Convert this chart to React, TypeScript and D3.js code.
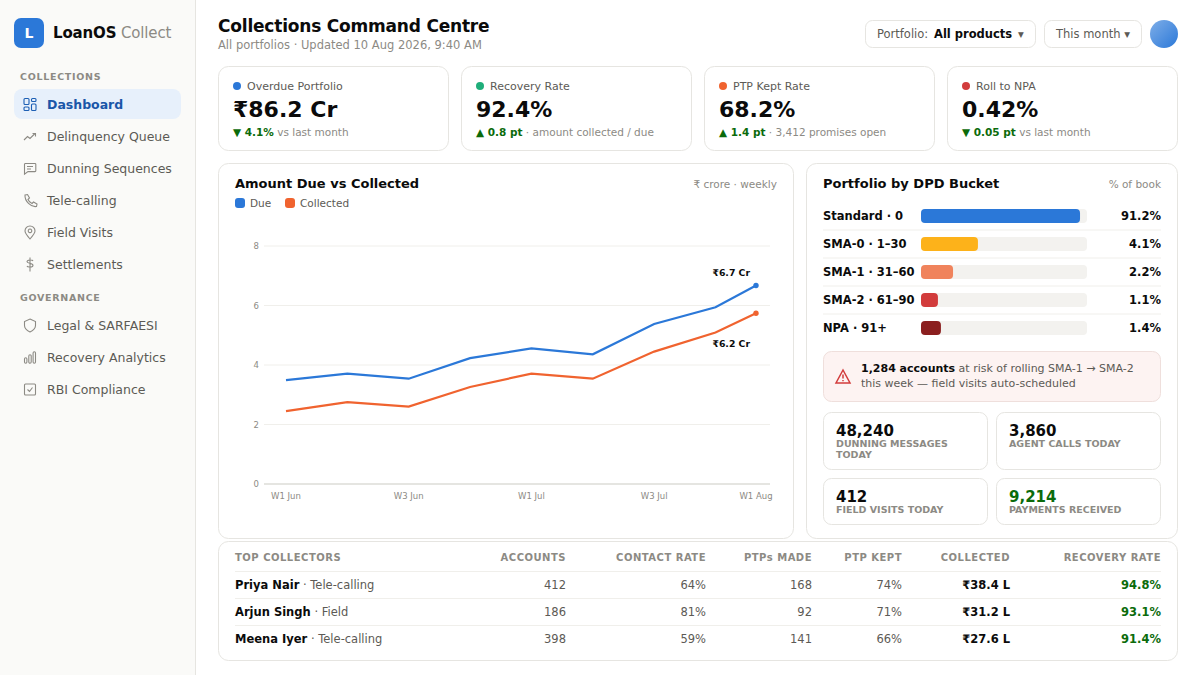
import React, { useEffect, useRef } from 'react';
import * as d3 from 'd3';

const FONT = '"DejaVu Sans", sans-serif';
const GREEN = '#0b6b0b';
const BORDER = '#e6e5e1';
const MUTED = '#8c8a84';
const BODY = '#5c5a55';
const INK = '#0b0b0b';

// weekly series, x is weeks since W1 Jun
const weekPos = [0, 1, 2, 3, 4, 5, 6, 7, 7.66];
const dueValues = [3.49, 3.71, 3.54, 4.23, 4.56, 4.36, 5.38, 5.94, 6.67];
const collectedValues = [2.45, 2.75, 2.6, 3.26, 3.71, 3.54, 4.45, 5.09, 5.74];
const yTicks = [0, 2, 4, 6, 8];
const xTickLabels = ['W1 Jun', 'W3 Jun', 'W1 Jul', 'W3 Jul', 'W1 Aug'];
const xTickWeeks = [0, 2, 4, 6, 7.66];

const bucketNames = ['Standard · 0', 'SMA-0 · 1–30', 'SMA-1 · 31–60', 'SMA-2 · 61–90', 'NPA · 91+'];
const bucketLabels = ['91.2%', '4.1%', '2.2%', '1.1%', '1.4%'];
const bucketWidths = [95.8, 34.3, 19.3, 10.2, 12];
const bucketColors = ['#2b78d8', '#fdb21a', '#f0835c', '#d23c3c', '#8b1f1f'];

const kpiTitles = ['Overdue Portfolio', 'Recovery Rate', 'PTP Kept Rate', 'Roll to NPA'];
const kpiValues = ['₹86.2 Cr', '92.4%', '68.2%', '0.42%'];
const kpiDeltas = ['▼ 4.1%', '▲ 0.8 pt', '▲ 1.4 pt', '▼ 0.05 pt'];
const kpiNotes = ['vs last month', '· amount collected / due', '· 3,412 promises open', 'vs last month'];
const kpiColors = ['#2b78d8', '#1fae7a', '#f0632f', '#d23c3c'];

const navCollections = ['Dashboard', 'Delinquency Queue', 'Dunning Sequences', 'Tele-calling', 'Field Visits', 'Settlements'];
const navGovernance = ['Legal & SARFAESI', 'Recovery Analytics', 'RBI Compliance'];

const tableHead = ['TOP COLLECTORS', 'ACCOUNTS', 'CONTACT RATE', 'PTPs MADE', 'PTP KEPT', 'COLLECTED', 'RECOVERY RATE'];
const tableColX = [566, 706, 812, 902, 1010, 1161];
const collectorNames = ['Priya Nair', 'Arjun Singh', 'Meena Iyer'];
const collectorTeams = ['· Tele-calling', '· Field', '· Tele-calling'];
const accounts = ['412', '186', '398'];
const contactRates = ['64%', '81%', '59%'];
const ptpsMade = ['168', '92', '141'];
const ptpKept = ['74%', '71%', '66%'];
const collected = ['₹38.4 L', '₹31.2 L', '₹27.6 L'];
const recoveryRates = ['94.8%', '93.1%', '91.4%'];

const App = () => {
  const ref = useRef<SVGSVGElement | null>(null);

  useEffect(() => {
    if (!ref.current) return;
    const svg = d3.select(ref.current);
    svg.selectAll('*').remove();

    const text = (parent: any, x: number, y: number, s: string, size: number, fill: string, weight = 400, anchor = 'start', ls = 0) =>
      parent.append('text').attr('x', x).attr('y', y).attr('font-size', size).attr('fill', fill)
        .attr('font-weight', weight).attr('text-anchor', anchor).attr('letter-spacing', ls).text(s);

    const card = (x: number, y: number, w: number, h: number, r = 10, fill = '#fff', stroke = BORDER) =>
      svg.append('rect').attr('x', x + 0.5).attr('y', y + 0.5).attr('width', w - 1).attr('height', h - 1)
        .attr('rx', r).attr('fill', fill).attr('stroke', stroke);

    // several styled runs on one baseline
    const runs = (x: number, y: number, parts: [string, number, string, number][]) => {
      const t = svg.append('text').attr('x', x).attr('y', y).attr('xml:space', 'preserve');
      parts.forEach(([s, size, fill, weight]) => {
        t.append('tspan').attr('font-size', size).attr('fill', fill).attr('font-weight', weight).text(s);
      });
      return t;
    };

    svg.append('rect').attr('width', 1200).attr('height', 675).attr('fill', '#ffffff');

    // sidebar
    svg.append('rect').attr('width', 196).attr('height', 675).attr('fill', '#fafaf8');
    svg.append('line').attr('x1', 195.5).attr('x2', 195.5).attr('y1', 0).attr('y2', 675).attr('stroke', BORDER);
    svg.append('rect').attr('x', 14).attr('y', 18).attr('width', 30).attr('height', 30).attr('rx', 7).attr('fill', '#2b78d8');
    text(svg, 29, 38, 'L', 14, '#fff', 700, 'middle');
    runs(53, 38, [['LoanOS', 15, INK, 700], [' Collect', 15, MUTED, 400]]).attr('letter-spacing', -0.15);

    text(svg, 20, 80, 'COLLECTIONS', 9.5, MUTED, 700, 'start', 0.7);
    text(svg, 20, 301, 'GOVERNANCE', 9.5, MUTED, 700, 'start', 0.7);
    svg.append('rect').attr('x', 14).attr('y', 89).attr('width', 167).attr('height', 30).attr('rx', 8).attr('fill', '#e7f0fb');

    const iconPaths = [
      'M-5 -6h3a1 1 0 0 1 1 1v4a1 1 0 0 1 -1 1h-3a1 1 0 0 1 -1 -1v-4a1 1 0 0 1 1 -1z M2.500 -6h2.500a1 1 0 0 1 1 1v1a1 1 0 0 1 -1 1h-2.500a1 1 0 0 1 -1 -1v-1a1 1 0 0 1 1 -1z M2.500 -.5h2.500a1 1 0 0 1 1 1v4.500a1 1 0 0 1 -1 1h-2.500a1 1 0 0 1 -1 -1v-4.500a1 1 0 0 1 1 -1z M-5 2.500h3a1 1 0 0 1 1 1v1.500a1 1 0 0 1 -1 1h-3a1 1 0 0 1 -1 -1v-1.500a1 1 0 0 1 1 -1z',
      'M-6 3.500l3.500 -3.500 2.500 2 5 -5 M2.500 -3h3v3',
      'M-5 -5h10a.8 .8 0 0 1 .8 .8v6.500a.8 .8 0 0 1 -.8 .8h-7l-3.500 2.500v-9.800a.8 .8 0 0 1 .8 -.8z M-3 -2h6 M-3 0.500h4',
      'M-5 -5.500l2.500 -.5 2 3.500 -1.500 1.500c.7 1.700 2.200 3.200 4 4l1.500 -1.500 3.500 2 -.5 2.500c-5.500 1 -12 -5.500 -11.500 -11.500z',
      'M0 6.500c-3 -3.500 -5 -6 -5 -8a5 5 0 0 1 10 0c0 2 -2 4.500 -5 8z M0 -3.500a1.800 1.800 0 1 0 .01 0z',
      'M0 -7v14 M3 -3.500c-.5 -1.500 -6 -1.500 -6 .8c0 1.700 6 1.200 6 3.400c0 2.300 -5.500 2.300 -6 .8',
    ];
    const iconPathsGov = [
      'M0 -6.500l5.500 2.500v4c0 3 -2.500 5 -5.500 6.500c-3 -1.500 -5.500 -3.500 -5.500 -6.500v-4z',
      'M-5.500 1.500a1.200 1.200 0 0 1 2.400 0v3a1.200 1.200 0 0 1 -2.400 0z M-1.200 -1.500a1.200 1.200 0 0 1 2.400 0v6a1.200 1.200 0 0 1 -2.400 0z M3.100 -4.500a1.200 1.200 0 0 1 2.400 0v9a1.200 1.200 0 0 1 -2.400 0z',
      'M-4.500 -5.500h9a1 1 0 0 1 1 1v9a1 1 0 0 1 -1 1h-9a1 1 0 0 1 -1 -1v-9a1 1 0 0 1 1 -1z M-2.500 0l2 2 3 -4',
    ];
    navCollections.forEach((n, i) => {
      const y = 104.5 + i * 32;
      const active = i === 0;
      svg.append('path').attr('transform', `translate(30,${y})`).attr('d', iconPaths[i]).attr('fill', 'none')
        .attr('stroke', active ? '#1d5fb4' : '#8c8a84').attr('stroke-width', 1.1);
      text(svg, 47, y + 4.5, n, 12.5, active ? '#1a56a8' : BODY, active ? 700 : 400);
    });
    navGovernance.forEach((n, i) => {
      const y = 325.5 + i * 32;
      svg.append('path').attr('transform', `translate(30,${y})`).attr('d', iconPathsGov[i]).attr('fill', 'none')
        .attr('stroke', '#8c8a84').attr('stroke-width', 1.1);
      text(svg, 47, y + 4.5, n, 12.5, BODY);
    });

    // header
    text(svg, 218, 32, 'Collections Command Centre', 17, INK, 700, 'start', -0.2);
    text(svg, 218, 49, 'All portfolios · Updated 10 Aug 2026, 9:40 AM', 11.5, MUTED);
    card(865, 20, 171, 28, 7);
    text(svg, 877, 38, 'Portfolio:', 11.5, BODY);
    text(svg, 934, 38, 'All products', 11.5, INK, 700);
    text(svg, 1021, 38, '▾', 11.5, BODY, 400, 'middle');
    card(1044, 20, 98, 28, 7);
    text(svg, 1056, 38, 'This month ▾', 11.5, BODY);
    const grad = svg.append('defs').append('linearGradient').attr('id', 'avatar').attr('x1', 0).attr('y1', 0).attr('x2', 1).attr('y2', 1);
    grad.append('stop').attr('offset', '0%').attr('stop-color', '#7eaee8');
    grad.append('stop').attr('offset', '100%').attr('stop-color', '#2b78d8');
    svg.append('circle').attr('cx', 1164).attr('cy', 34).attr('r', 14).attr('fill', 'url(#avatar)');

    // kpi cards
    kpiTitles.forEach((title, i) => {
      const x = 218 + i * 243;
      card(x, 66, 231, 85);
      svg.append('circle').attr('cx', x + 19).attr('cy', 86).attr('r', 4).attr('fill', kpiColors[i]);
      text(svg, x + 29, 89.5, title, 11, BODY);
      text(svg, x + 15, 117, kpiValues[i], 22, INK, 700);
      runs(x + 15, 136, [[kpiDeltas[i], 10.5, GREEN, 700], [' ' + kpiNotes[i], 10.5, MUTED, 400]]);
    });

    // line chart card
    card(218, 163, 576, 376);
    text(svg, 235, 188, 'Amount Due vs Collected', 13, INK, 700);
    text(svg, 777, 188, '₹ crore · weekly', 10.5, MUTED, 400, 'end');
    svg.append('rect').attr('x', 235).attr('y', 198).attr('width', 10).attr('height', 10).attr('rx', 3).attr('fill', '#2b78d8');
    text(svg, 250, 207, 'Due', 10.5, BODY);
    svg.append('rect').attr('x', 285).attr('y', 198).attr('width', 10).attr('height', 10).attr('rx', 3).attr('fill', '#f0632f');
    text(svg, 300, 207, 'Collected', 10.5, BODY);

    const x = d3.scaleLinear().domain([0, 7.66]).range([286, 756]);
    const y = d3.scaleLinear().domain([0, 8]).range([484, 246]);
    const plot = svg.append('g');
    yTicks.forEach(t => {
      plot.append('line').attr('x1', 264).attr('x2', 770).attr('y1', y(t)).attr('y2', y(t))
        .attr('stroke', t === 0 ? '#dddcd7' : '#f0efeb').attr('stroke-width', t === 0 ? 1.5 : 1);
      text(plot, 259, y(t) + 3, String(t), 8.5, MUTED, 400, 'end');
    });
    xTickLabels.forEach((l, i) => text(plot, x(xTickWeeks[i]), 499, l, 8.5, MUTED, 400, 'middle'));

    const line = d3.line<number>().x((_, i) => x(weekPos[i])).y(d => y(d));
    const drawSeries = (vals: number[], color: string) => {
      plot.append('path').attr('d', line(vals)).attr('fill', 'none').attr('stroke', color).attr('stroke-width', 2.2);
      plot.append('circle').attr('cx', x(weekPos[weekPos.length - 1])).attr('cy', y(vals[vals.length - 1])).attr('r', 2.7).attr('fill', color);
    };
    drawSeries(dueValues, '#2b78d8');
    drawSeries(collectedValues, '#f0632f');
    text(plot, 750, 276, '₹6.7 Cr', 9.3, INK, 700, 'end');
    text(plot, 750, 347, '₹6.2 Cr', 9.3, INK, 700, 'end');

    // bucket card
    card(806, 163, 372, 376);
    text(svg, 823, 188, 'Portfolio by DPD Bucket', 13, INK, 700);
    text(svg, 1161, 188, '% of book', 10.5, MUTED, 400, 'end');
    const bw = d3.scaleLinear().domain([0, 100]).range([0, 166]);
    bucketNames.forEach((n, i) => {
      const cy = 216 + i * 28;
      text(svg, 823, cy + 4, n, 11.5, INK, 700);
      svg.append('rect').attr('x', 921).attr('y', cy - 7).attr('width', 166).attr('height', 14).attr('rx', 4).attr('fill', '#f3f2ef');
      svg.append('rect').attr('x', 921).attr('y', cy - 7).attr('width', bw(bucketWidths[i])).attr('height', 14).attr('rx', 4).attr('fill', bucketColors[i]);
      text(svg, 1161, cy + 4, bucketLabels[i], 11.5, INK, 700, 'end');
      if (i < bucketNames.length - 1) {
        svg.append('line').attr('x1', 823).attr('x2', 1161).attr('y1', cy + 14).attr('y2', cy + 14).attr('stroke', '#f0efeb');
      }
    });

    // alert
    card(823, 351, 338, 51, 8, '#fdf3f2', '#efdfdc');
    svg.append('path').attr('d', 'M843 370l-7 13h14z M843 374.500v4 M843 380v1.200').attr('fill', 'none').attr('stroke', '#d23c3c').attr('stroke-width', 1.5);
    runs(861, 372, [['1,284 accounts', 11, INK, 700], [' at risk of rolling SMA-1 → SMA-2', 11, BODY, 400]]);
    text(svg, 861, 387, 'this week — field visits auto-scheduled', 11, BODY);

    // small stat cards
    const statCard = (cx: number, cy: number, h: number, v: string, lines: string[], color = INK) => {
      card(cx, cy, 165, h, 8);
      text(svg, cx + 13, cy + 23.5, v, 15, color, 700);
      lines.forEach((l, i) => text(svg, cx + 13, cy + 35 + i * 11, l, 9.5, MUTED, 700));
    };
    statCard(823, 412, 58, '48,240', ['DUNNING MESSAGES', 'TODAY']);
    statCard(996, 412, 58, '3,860', ['AGENT CALLS TODAY']);
    statCard(823, 478, 47, '412', ['FIELD VISITS TODAY']);
    statCard(996, 478, 47, '9,214', ['PAYMENTS RECEIVED'], GREEN);

    // table
    card(218, 541, 960, 120);
    text(svg, 235, 561, tableHead[0], 10, MUTED, 700, 'start', 0.5);
    tableHead.slice(1).forEach((h, i) => text(svg, tableColX[i], 561, h, 10, MUTED, 700, 'end', 0.5));
    [571.5, 598.5, 625.5].forEach(ly => {
      svg.append('line').attr('x1', 235).attr('x2', 1161).attr('y1', ly).attr('y2', ly).attr('stroke', '#f0efeb');
    });
    collectorNames.forEach((n, i) => {
      const ry = 589 + i * 27;
      runs(235, ry, [[n, 11.5, INK, 700], [' ' + collectorTeams[i], 11.5, BODY, 400]]);
      text(svg, tableColX[0], ry, accounts[i], 11.5, BODY, 400, 'end');
      text(svg, tableColX[1], ry, contactRates[i], 11.5, BODY, 400, 'end');
      text(svg, tableColX[2], ry, ptpsMade[i], 11.5, BODY, 400, 'end');
      text(svg, tableColX[3], ry, ptpKept[i], 11.5, BODY, 400, 'end');
      text(svg, tableColX[4], ry, collected[i], 11.5, INK, 700, 'end');
      text(svg, tableColX[5], ry, recoveryRates[i], 11.5, GREEN, 700, 'end');
    });
  }, []);

  return (
    <svg
      ref={ref}
      width={1200}
      height={675}
      viewBox="0 0 1200 675"
      style={{ position: 'absolute', left: 0, top: 0, fontFamily: FONT }}
    />
  );
};

export default App;
